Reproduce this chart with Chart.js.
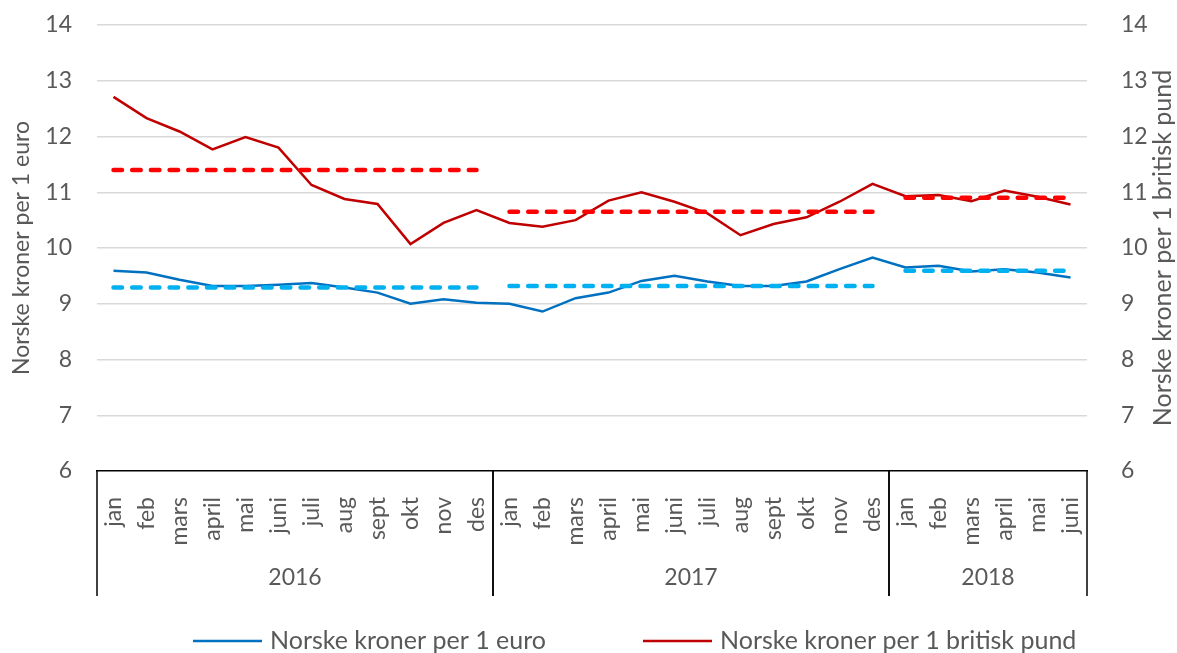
<!DOCTYPE html>
<html>
<head>
<meta charset="utf-8">
<script src="https://cdn.jsdelivr.net/npm/chart.js@4.4.1/dist/chart.umd.min.js"></script>
<style>
  html, body { margin: 0; padding: 0; background: #fff; }
</style>
</head>
<body>
<canvas id="kursChart" width="1177" height="653"></canvas>
<script>
// månedsnavn langs x-aksen
const maaneder = [
  "jan", "feb", "mars", "april", "mai", "juni", "juli", "aug", "sept", "okt", "nov", "des",
  "jan", "feb", "mars", "april", "mai", "juni", "juli", "aug", "sept", "okt", "nov", "des",
  "jan", "feb", "mars", "april", "mai", "juni"
];
const aar = ["2016", "2017", "2018"];
const maanederPerAar = [12, 12, 6];

const euro = [
  9.59, 9.56, 9.43, 9.32, 9.32, 9.34, 9.37, 9.29, 9.20, 9.00, 9.08, 9.02,
  9.00, 8.86, 9.10, 9.20, 9.41, 9.50, 9.40, 9.32, 9.32, 9.40, 9.62, 9.83,
  9.65, 9.68, 9.58, 9.62, 9.56, 9.47
];
const pund = [
  12.71, 12.33, 12.09, 11.77, 11.99, 11.80, 11.13, 10.88, 10.79, 10.07, 10.45, 10.68,
  10.45, 10.38, 10.50, 10.85, 11.00, 10.83, 10.62, 10.23, 10.43, 10.55, 10.83, 11.15,
  10.93, 10.95, 10.84, 11.03, 10.92, 10.78
];
// årsgjennomsnitt (stiplet)
const euroSnitt = [
  9.29, 9.29, 9.29, 9.29, 9.29, 9.29, 9.29, 9.29, 9.29, 9.29, 9.29, 9.29,
  9.32, 9.32, 9.32, 9.32, 9.32, 9.32, 9.32, 9.32, 9.32, 9.32, 9.32, 9.32,
  9.59, 9.59, 9.59, 9.59, 9.59, 9.59
];
const pundSnitt = [
  11.40, 11.40, 11.40, 11.40, 11.40, 11.40, 11.40, 11.40, 11.40, 11.40, 11.40, 11.40,
  10.65, 10.65, 10.65, 10.65, 10.65, 10.65, 10.65, 10.65, 10.65, 10.65, 10.65, 10.65,
  10.90, 10.90, 10.90, 10.90, 10.90, 10.90
];
const yMin = 6, yMax = 14;

const tekstFarge = "#595959";
const font = "Lato";

// indekser der et nytt år begynner
const aarsSkift = [];
maanederPerAar.reduce((sum, n) => { aarsSkift.push(sum + n - 1); return sum + n; }, 0);
const brudd = ctx => aarsSkift.includes(ctx.p0DataIndex) ? "transparent" : undefined;

const ekstra = {
  id: "ekstra",
  afterDraw(chart) {
    const { ctx, chartArea, scales: { x } } = chart;
    const topp = chartArea.bottom, bunn = chartArea.bottom + 125;
    ctx.save();
    ctx.strokeStyle = "#000";
    ctx.lineWidth = 1.5;
    ctx.fillStyle = tekstFarge;
    ctx.font = "23px " + font;
    ctx.textAlign = "center";
    ctx.textBaseline = "middle";
    let start = 0;
    aar.forEach((a, i) => {
      const slutt = start + maanederPerAar[i] - 1;
      const v = start === 0 ? chartArea.left : (x.getPixelForValue(start - 1) + x.getPixelForValue(start)) / 2;
      const h = slutt === maaneder.length - 1 ? chartArea.right : (x.getPixelForValue(slutt) + x.getPixelForValue(slutt + 1)) / 2;
      [v, h].forEach(px => {
        ctx.beginPath();
        ctx.moveTo(px, topp);
        ctx.lineTo(px, bunn);
        ctx.stroke();
      });
      ctx.fillText(a, (v + h) / 2, topp + 107);
      start = slutt + 1;
    });

    // høyre aksetittel, leses nedenfra og opp
    ctx.font = "25px " + font;
    ctx.save();
    ctx.translate(1163, (chartArea.top + chartArea.bottom) / 2);
    ctx.rotate(-Math.PI / 2);
    ctx.fillText("Norske kroner per 1 britisk pund", 0, 0);
    ctx.restore();

    // tegnforklaring
    const y = 641;
    ctx.textAlign = "left";
    [[0, 193], [1, 643]].forEach(([di, x0]) => {
      const ds = chart.data.datasets[di];
      ctx.strokeStyle = ds.borderColor;
      ctx.lineWidth = 2.5;
      ctx.beginPath();
      ctx.moveTo(x0, y);
      ctx.lineTo(x0 + 69, y);
      ctx.stroke();
      ctx.fillText(ds.label, x0 + 77, y);
    });
    ctx.restore();
  }
};

new Chart(document.getElementById("kursChart"), {
  type: "line",
  data: {
    labels: maaneder,
    datasets: [
      {
        label: "Norske kroner per 1 euro",
        data: euro,
        yAxisID: "y",
        borderColor: "#0070C0",
        borderWidth: 2.5,
        pointRadius: 0,
        tension: 0,
        order: 2
      },
      {
        label: "Norske kroner per 1 britisk pund",
        data: pund,
        yAxisID: "y2",
        borderColor: "#C00000",
        borderWidth: 2.5,
        pointRadius: 0,
        tension: 0,
        order: 2
      },
      {
        label: "Snitt euro",
        data: euroSnitt,
        yAxisID: "y",
        borderColor: "#00B0F0",
        borderWidth: 4.5,
        borderDash: [8.5, 10.2],
        borderCapStyle: "round",
        pointRadius: 0,
        segment: { borderColor: brudd },
        order: 1
      },
      {
        label: "Snitt pund",
        data: pundSnitt,
        yAxisID: "y2",
        borderColor: "#FF0000",
        borderWidth: 4.5,
        borderDash: [8.5, 10.2],
        borderCapStyle: "round",
        pointRadius: 0,
        segment: { borderColor: brudd },
        order: 1
      }
    ]
  },
  options: {
    responsive: false,
    animation: false,
    devicePixelRatio: 1,
    layout: { padding: { top: 25, bottom: 57, left: 0, right: 0 } },
    plugins: {
      legend: { display: false },
      tooltip: { enabled: false }
    },
    scales: {
      x: {
        offset: true,
        grid: { display: false },
        border: { display: true, color: "#000", width: 1.5 },
        ticks: {
          autoSkip: false,
          minRotation: 90,
          maxRotation: 90,
          padding: 18,
          color: tekstFarge,
          font: { family: font, size: 23 }
        },
        afterFit: s => { s.height = 125; }
      },
      y: {
        position: "left",
        min: yMin,
        max: yMax,
        border: { display: false },
        grid: {
          drawTicks: false,
          lineWidth: 1.5,
          color: c => c.tick.value === yMin ? "transparent" : "#D9D9D9"
        },
        ticks: {
          stepSize: 1,
          padding: 25,
          color: tekstFarge,
          font: { family: font, size: 23 }
        },
        title: {
          display: true,
          text: "Norske kroner per 1 euro",
          color: tekstFarge,
          font: { family: font, size: 23 },
          padding: { top: 8 }
        },
        afterFit: s => { s.width = 97; s.paddingTop = 0; s.paddingBottom = 0; }
      },
      y2: {
        position: "right",
        min: yMin,
        max: yMax,
        border: { display: false },
        grid: { display: false },
        ticks: {
          stepSize: 1,
          padding: 26,
          color: tekstFarge,
          font: { family: font, size: 23 }
        },
        afterFit: s => { s.width = 90; s.paddingTop = 0; s.paddingBottom = 0; }
      }
    }
  },
  plugins: [ekstra]
});
</script>
</body>
</html>
